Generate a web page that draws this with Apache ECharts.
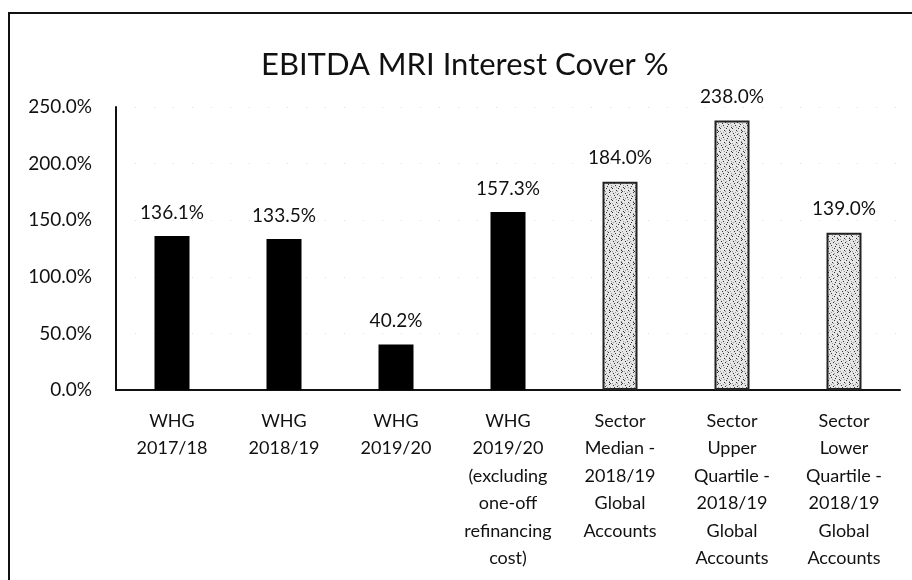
<!DOCTYPE html>
<html>
<head>
<meta charset="utf-8">
<script src="https://cdn.jsdelivr.net/npm/echarts@6/dist/echarts.min.js"></script>
<style>
  html, body { margin: 0; padding: 0; background: #fff; }
  #wrap { position: relative; width: 912px; height: 580px; }
  #chart { width: 912px; height: 580px; }
  .frame {
    position: absolute; left: 8px; top: 12px; width: 904px; height: 568px;
    border-left: 2px solid #111; border-top: 2px solid #111; pointer-events: none;
  }
</style>
</head>
<body>
<div id="wrap">
  <div id="chart"></div>
  <div class="frame"></div>
</div>
<script>
const categories = [
  'WHG\n2017/18',
  'WHG\n2018/19',
  'WHG\n2019/20',
  'WHG\n2019/20\n(excluding\none-off\nrefinancing\ncost)',
  'Sector\nMedian -\n2018/19\nGlobal\nAccounts',
  'Sector\nUpper\nQuartile -\n2018/19\nGlobal\nAccounts',
  'Sector\nLower\nQuartile -\n2018/19\nGlobal\nAccounts'
];
// values in %
const coverValues = [136.1, 133.5, 40.2, 157.3, 184.0, 238.0, 139.0];
// which bars are sector benchmarks (stippled)
const isSector = [false, false, false, false, true, true, true];

const font = 'Lato, "Open Sans", sans-serif';

// stipple texture for sector bars
function makeStipple() {
  const c = document.createElement('canvas');
  c.width = 12; c.height = 12;
  const ctx = c.getContext('2d');
  ctx.fillStyle = '#e6e6e6';
  ctx.fillRect(0, 0, 12, 12);
  ctx.fillStyle = '#333';
  [[1,1],[5,2],[9,0],[3,5],[8,4],[11,7],[0,8],[6,8],[4,10],[10,11],[2,3],[7,6],[9,10]]
    .forEach(d => ctx.fillRect(d[0], d[1], 1, 1));
  ctx.fillStyle = '#999';
  [[3,0],[10,3],[1,6],[5,11],[9,9],[6,1],[0,11],[7,3],[11,5],[4,7]]
    .forEach(d => ctx.fillRect(d[0], d[1], 1, 1));
  return c;
}
const stipple = makeStipple();

const chart = echarts.init(document.getElementById('chart'));
chart.setOption({
  animation: false,
  title: {
    text: 'EBITDA MRI Interest Cover %',
    left: 256,
    top: 44,
    textStyle: { fontFamily: font, fontWeight: 'normal', fontSize: 31, color: '#111' }
  },
  grid: { left: 116, right: 12, top: 107, bottom: 190 },
  xAxis: {
    type: 'category',
    data: categories,
    axisLine: { lineStyle: { color: '#111', width: 2 } },
    axisTick: { show: false },
    axisLabel: {
      interval: 0, margin: 17, lineHeight: 27.5,
      fontFamily: font, fontSize: 18, color: '#111'
    }
  },
  yAxis: {
    type: 'value',
    min: 0, max: 250, interval: 50,
    axisLine: { show: true, lineStyle: { color: '#111', width: 2 } },
    axisTick: { show: false },
    splitLine: { show: true, lineStyle: { color: '#ddd', type: [1, 18], width: 1 } },
    axisLabel: {
      margin: 24, fontFamily: font, fontSize: 19, color: '#111',
      formatter: v => v.toFixed(1) + '%'
    }
  },
  series: [{
    type: 'bar',
    barWidth: 35,
    data: coverValues.map((v, i) => ({
      value: v,
      itemStyle: isSector[i]
        ? { color: { image: stipple, repeat: 'repeat' }, borderColor: '#222', borderWidth: 2 }
        : { color: '#000' }
    })),
    label: {
      show: true, position: 'top', distance: 14,
      fontFamily: font, fontSize: 19, color: '#111',
      formatter: p => p.value.toFixed(1) + '%'
    }
  }]
});
</script>
</body>
</html>
